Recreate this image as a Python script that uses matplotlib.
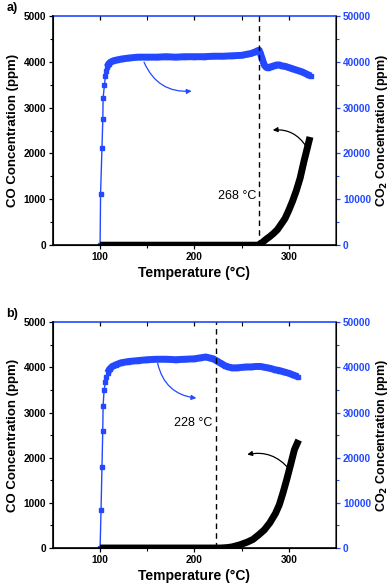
import matplotlib.pyplot as plt
import numpy as np

plt.rcParams['font.family'] = ['Liberation Sans', 'DejaVu Sans']

BLUE = '#2348ff'

# ---- panel a data ----
a_co2_T = [100, 100.5, 102, 102.9, 103.2, 104.6, 105.6, 106.3, 107.5, 109, 111, 114, 118, 123,
           130, 140, 150, 160, 170, 180, 190, 200, 210, 220, 230, 240, 250, 255, 260, 264,
           267, 268.5, 270, 272, 274, 276, 278, 281, 284, 287, 290, 293, 296, 299, 302,
           305, 308, 311, 314, 317, 320, 323.5]
a_co2 = [0, 11200, 21200, 27600, 32100, 34900, 36900, 38000, 38900, 39500, 39900, 40200, 40400, 40600,
         40800, 41000, 41000, 41000, 41100, 41000, 41100, 41100, 41100, 41200, 41200, 41300, 41400, 41600, 41800, 42100,
         42400, 42500, 41800, 40500, 39300, 38800, 38700, 38900, 39100, 39300, 39300, 39100, 39000, 38800, 38600,
         38400, 38200, 38000, 37800, 37500, 37200, 36900]
a_co_T = [100, 150, 200, 250, 265, 268, 272, 276, 280, 284, 288, 292, 296, 300, 304, 308,
          312, 316, 320, 322.5]
a_co = [0, 0, 0, 0, 0, 0, 60, 130, 190, 260, 340, 460, 580, 760, 960, 1190,
        1460, 1820, 2150, 2360]
a_onset = 268.5
a_label = '268 °C'

# ---- panel b data ----
b_co2_T = [100, 101, 102, 102.8, 103.2, 104.2, 105.6, 106.7, 108, 110, 113, 117, 122, 130,
           140, 150, 160, 170, 180, 190, 200, 206, 212, 216, 220, 224, 228, 232, 236, 240,
           245, 250, 255, 260, 265, 270, 275, 280, 285, 290, 295, 300, 305, 310]
b_co2 = [0, 8450, 17900, 25850, 31400, 34900, 36700, 37800, 38800, 39600, 40200, 40600, 41000, 41300,
         41500, 41700, 41800, 41800, 41700, 41800, 41900, 42100, 42300, 42100, 41900, 41400, 40900, 40400, 40100, 39900,
         39900, 40000, 40100, 40100, 40200, 40200, 40000, 39800, 39500, 39300, 39000, 38700, 38300, 37900]
b_co_T = [100, 150, 200, 228, 235, 240, 248, 256, 262, 268, 274, 280, 286, 290, 294,
          298, 302, 306, 310.5]
b_co = [0, 0, 0, 0, 10, 25, 70, 130, 190, 290, 400, 560, 770, 960, 1230,
        1530, 1850, 2180, 2390]
b_onset = 222.5
b_label = '228 °C'


def draw_panel(ax, co2_T, co2, co_T, co, onset, label, label_y, dense_start,
               blue_arrow, black_arrow, tag):
    ax2 = ax.twinx()

    # CO2 (right axis)
    ax2.plot(co2_T, co2, color=BLUE, lw=1, marker='s', ms=3.5, mec=BLUE)
    ax2.plot(co2_T[dense_start:], co2[dense_start:], color=BLUE, lw=5, solid_capstyle='butt')
    # CO (left axis)
    ax.plot(co_T, co, color='black', lw=5, solid_capstyle='butt')

    ax.axvline(onset, color='black', ls=(0, (4, 3)), lw=1)
    ax.text(onset - 3, label_y, label, ha='right', va='center', fontsize=9)

    ax.annotate('', xy=blue_arrow[1], xytext=blue_arrow[0],
                arrowprops=dict(arrowstyle='-|>', color=BLUE, lw=0.9, mutation_scale=7,
                                connectionstyle='arc3,rad=0.35', shrinkA=0, shrinkB=0))
    ax.annotate('', xy=black_arrow[1], xytext=black_arrow[0],
                arrowprops=dict(arrowstyle='-|>', color='black', lw=0.9, mutation_scale=7,
                                connectionstyle='arc3,rad=0.3', shrinkA=0, shrinkB=0))

    ax.set_xlim(50, 350)
    ax.set_ylim(0, 5000)
    ax2.set_ylim(0, 50000)
    ax.set_xticks([100, 200, 300])
    ax.set_xticks([150, 250], minor=True)
    ax.set_yticks([0, 1000, 2000, 3000, 4000, 5000])
    ax.set_yticks(np.arange(500, 5000, 1000), minor=True)
    ax2.set_yticks([0, 10000, 20000, 30000, 40000, 50000])
    ax2.set_yticks(np.arange(5000, 50000, 10000), minor=True)

    ax.tick_params(axis='both', which='major', labelsize=7.3, length=3, width=0.9,
                   direction='out', pad=2)
    ax.tick_params(axis='both', which='minor', length=2, width=0.8, direction='out')
    ax.tick_params(axis='x', which='both', top=True, labeltop=False)
    for lab in ax.get_xticklabels() + ax.get_yticklabels():
        lab.set_fontweight('bold')
    ax2.tick_params(axis='y', which='major', labelsize=7.3, length=3, width=0.9,
                    colors=BLUE, direction='out', pad=2)
    ax2.tick_params(axis='y', which='minor', length=2, width=0.8, colors=BLUE, direction='out')
    for lab in ax2.get_yticklabels():
        lab.set_fontweight('bold')

    ax.spines['left'].set_linewidth(1.2)
    ax.spines['bottom'].set_linewidth(1.2)
    ax2.spines['right'].set_color(BLUE)
    ax2.spines['right'].set_linewidth(1.2)
    ax2.spines['top'].set_color(BLUE)
    ax2.spines['top'].set_linewidth(1.2)
    ax.spines['top'].set_visible(False)
    # top ticks in blue, pointing inward
    for t in ax.xaxis.get_major_ticks() + ax.xaxis.get_minor_ticks():
        t.tick2line.set_color(BLUE)
        t.tick2line.set_marker(3)  # TICKDOWN
        t.tick2line.set_markersize(3)

    ax.set_xlabel('Temperature (°C)', fontsize=10, fontweight='bold', labelpad=3)
    ax.set_ylabel('CO Concentration (ppm)', fontsize=9.5, fontweight='bold', labelpad=3)
    ax2.set_ylabel('CO$_\\mathbf{2}$ Concentration (ppm)', fontsize=9, fontweight='bold',
                   labelpad=2)
    ax.text(-0.165, 1.01, tag, transform=ax.transAxes, fontsize=9, fontweight='bold',
            ha='left', va='bottom')
    ax.set_zorder(ax2.get_zorder() + 1)
    ax.patch.set_visible(False)


fig = plt.figure(figsize=(3.92, 5.88), dpi=100)
ax_a = fig.add_axes([0.135, 0.583, 0.722, 0.390])
ax_b = fig.add_axes([0.135, 0.068, 0.722, 0.384])

draw_panel(ax_a, a_co2_T, a_co2, a_co_T, a_co, a_onset, a_label, 1075, 8,
           ((146.6, 3990), (197, 3360)), ((318.5, 2150), (283, 2510)), 'a)')
draw_panel(ax_b, b_co2_T, b_co2, b_co_T, b_co, b_onset, b_label, 2760, 8,
           ((161, 4090), (202, 3320)), ((300.7, 1740), (256, 2070)), 'b)')

fig.savefig('out.png', dpi=100)
